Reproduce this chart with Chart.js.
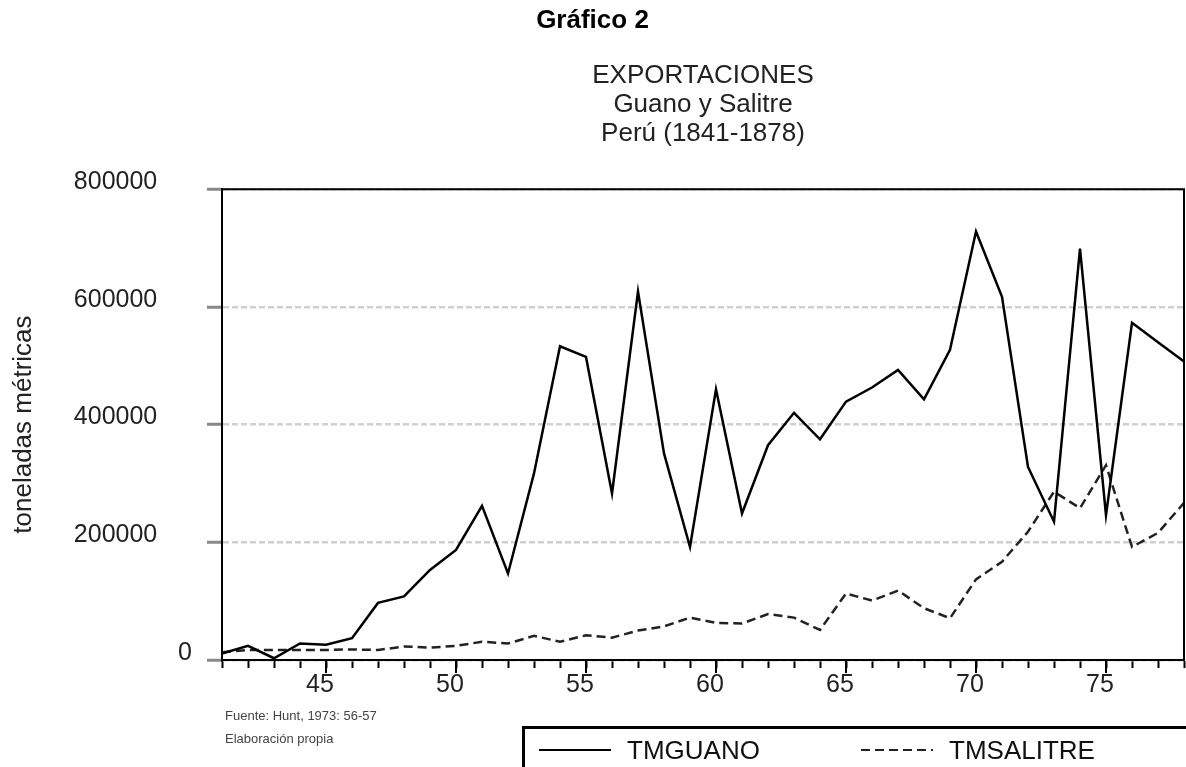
<!DOCTYPE html>
<html>
<head>
<meta charset="utf-8">
<script src="https://cdn.jsdelivr.net/npm/chart.js@4.4.1/dist/chart.umd.min.js"></script>
<style>
  body { margin: 0; background: #fff; overflow: hidden; font-family: "Liberation Sans", Arial, sans-serif; }
  #wrap { position: relative; width: 1186px; height: 767px; }
  #fuente { position: absolute; left: 225px; top: 704px; font-size: 13px; line-height: 23px; color: #444; }
  #legend { position: absolute; left: 522px; top: 726px; width: 720px; height: 80px;
            border-top: 3px solid #000; border-left: 3px solid #000; }
  .item { position: absolute; top: 6px; height: 30px; line-height: 30px; font-size: 26px; color: #111;
          display: flex; align-items: center; }
  .item svg { margin-right: 16px; }
</style>
</head>
<body>
<div id="wrap">
  <canvas id="chart" width="1186" height="767"></canvas>
  <div id="fuente">Fuente: Hunt, 1973: 56-57<br>Elaboración propia</div>
  <div id="legend"></div>
</div>
<script>
const years = [1841, 1842, 1843, 1844, 1845, 1846, 1847, 1848, 1849, 1850,
               1851, 1852, 1853, 1854, 1855, 1856, 1857, 1858, 1859, 1860,
               1861, 1862, 1863, 1864, 1865, 1866, 1867, 1868, 1869, 1870,
               1871, 1872, 1873, 1874, 1875, 1876, 1877, 1878];
const tickYears = [1845, 1850, 1855, 1860, 1865, 1870, 1875];
const tickLabels = ['45', '50', '55', '60', '65', '70', '75'];
const yTickLabels = ['0', '200000', '400000', '600000', '800000'];

// toneladas metricas
const tmGuano = [11000, 24000, 3000, 28000, 26000, 37000, 97000, 108000, 153000, 187000,
                 262000, 147000, 317000, 533000, 515000, 283000, 626000, 351000, 192000, 460000,
                 249000, 365000, 420000, 375000, 439000, 463000, 493000, 443000, 527000, 728000,
                 617000, 328000, 235000, 699000, 246000, 573000, 540000, 507000];
const tmSalitre = [13000, 17000, 17000, 17000, 17000, 18000, 17000, 23000, 21000, 24000,
                   31000, 28000, 41000, 31000, 42000, 38000, 50000, 57000, 72000, 63000,
                   62000, 78000, 72000, 51000, 113000, 101000, 118000, 88000, 71000, 137000,
                   167000, 218000, 286000, 258000, 331000, 192000, 216000, 267000];

const FONT = '"Liberation Sans", Arial, sans-serif';

const framePlugin = {
    id: 'frame',
    afterDraw(chart) {
        const ctx = chart.ctx;
        const a = chart.chartArea;
        const x = chart.scales.x;
        ctx.save();
        ctx.strokeStyle = '#000';
        ctx.lineWidth = 2;
        ctx.beginPath();
        ctx.moveTo(a.left, a.top);
        ctx.lineTo(a.right, a.top);
        ctx.lineTo(a.right, a.bottom);
        ctx.stroke();
        // labelled years get a longer tick
        ctx.beginPath();
        tickYears.forEach(function(yr) {
            const px = x.getPixelForValue(years.indexOf(yr));
            ctx.moveTo(px, a.bottom);
            ctx.lineTo(px, a.bottom + 13);
        });
        ctx.stroke();
        ctx.restore();
    }
};

const chart = new Chart(document.getElementById('chart'), {
    type: 'line',
    data: {
        labels: years.map(String),
        datasets: [{
            label: 'TMGUANO',
            data: tmGuano,
            borderColor: '#000',
            borderWidth: 2.5,
            pointRadius: 0,
            tension: 0
        }, {
            label: 'TMSALITRE',
            data: tmSalitre,
            borderColor: '#222',
            borderWidth: 2.5,
            borderDash: [9, 5],
            pointRadius: 0,
            tension: 0
        }]
    },
    options: {
        responsive: false,
        animation: false,
        devicePixelRatio: 1,
        layout: { padding: { left: 0, right: 1, top: 0, bottom: 0 } },
        plugins: {
            legend: { display: false },
            tooltip: { enabled: false },
            title: {
                display: true,
                text: 'Gráfico 2',
                color: '#000',
                font: { family: FONT, size: 26, weight: 'bold', lineHeight: 1.2 },
                padding: { top: 5, bottom: 0 }
            },
            subtitle: {
                display: true,
                fullSize: false,
                text: ['EXPORTACIONES', 'Guano y Salitre', 'Perú (1841-1878)'],
                color: '#222',
                font: { family: FONT, size: 26, lineHeight: 1.115 },
                padding: { top: 25, bottom: 41 }
            }
        },
        scales: {
            x: {
                type: 'category',
                offset: false,
                afterFit: function(scale) { scale.height = 107; },
                grid: { drawOnChartArea: false, offset: false, tickLength: 8, tickColor: '#000', tickWidth: 2 },
                border: { color: '#000', width: 2 },
                ticks: {
                    autoSkip: false,
                    maxRotation: 0,
                    padding: 2,
                    labelOffset: -6,
                    color: '#222',
                    font: { family: FONT, size: 25, lineHeight: 1.2 },
                    callback: function(value, index) {
                        const i = tickYears.indexOf(years[index]);
                        return i >= 0 ? tickLabels[i] : '';
                    }
                }
            },
            y: {
                min: 0,
                max: 800000,
                afterFit: function(scale) { scale.width = 222; },
                grid: { color: '#d0d0d0', lineWidth: 2.5, tickLength: 15, tickColor: '#888', tickWidth: 3 },
                border: { color: '#000', width: 2, dash: [6, 3] },
                title: {
                    display: true,
                    text: 'toneladas métricas',
                    color: '#222',
                    font: { family: FONT, size: 26, lineHeight: 1.2 },
                    padding: { top: 8, bottom: 0 }
                },
                ticks: {
                    stepSize: 200000,
                    padding: 15,
                    labelOffset: -7,
                    color: '#222',
                    font: { family: FONT, size: 25 },
                    callback: function(value, index) {
                        // the zero label sits next to the axis, the others further out
                        const s = yTickLabels[index];
                        return s === '0' ? s : s + '     ';
                    }
                }
            }
        }
    },
    plugins: [framePlugin]
});

// legend box built from the datasets
const legendBox = document.getElementById('legend');
const itemLefts = [14, 336];
chart.data.datasets.forEach(function(ds, i) {
    const item = document.createElement('div');
    item.className = 'item';
    item.style.left = itemLefts[i] + 'px';
    const dash = ds.borderDash ? ds.borderDash.join(',') : 'none';
    item.innerHTML = '<svg width="72" height="6"><line x1="0" y1="3" x2="72" y2="3" stroke="' +
        ds.borderColor + '" stroke-width="2" stroke-dasharray="' + dash + '"/></svg>' + ds.label;
    legendBox.appendChild(item);
});
</script>
</body>
</html>
